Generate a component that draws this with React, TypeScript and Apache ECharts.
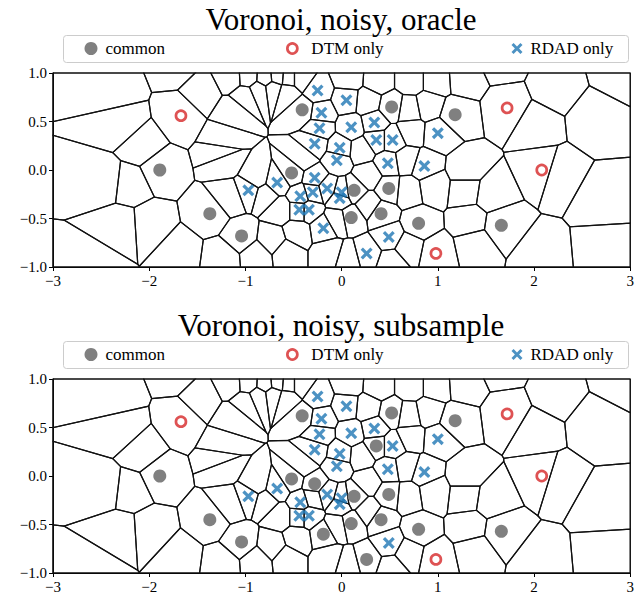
import React, { useEffect, useRef } from "react";
import * as echarts from "echarts";

// ---------- data (values in axis units) ----------
const xTicks = [-3, -2, -1, 0, 1, 2, 3];
const yTicks = [-1, -0.5, 0, 0.5, 1];
const titles = ["Voronoi, noisy, oracle", "Voronoi, noisy, subsample"];
const legendNames = ["common", "DTM only", "RDAD only"];

// sample points that carry no marker
const otherSamplePoints: [number, number][] = [
  [-2.36, 0.83], [-1.72, 1.09], [-1.44, 0.8], [-2.28, 0.47], [-2.08, 0.25], [-2.45, -0.12],
  [-2.2, -0.15], [-2.3, -0.58], [-2.55, -1.0], [-1.99, -0.56], [-1.68, -0.85],
  [-1.13, 0.6], [-1.15, 0.95], [-1.22, 0.31], [-1.24, 0.18], [-1.21, 0.1], [-1.16, -0.28], [-1.24, -0.91],
  [-1.0, 0.76], [-0.86, 0.82], [-0.71, 0.84], [-0.57, 0.8], [-0.4, 0.12], [-0.89, -0.08],
  [-0.97, 0.96], [-0.79, 0.95], [-0.67, 0.96], [-0.55, 0.95], [-0.43, 0.95],
  [0.07, 0.95], [0.38, 0.93], [0.72, 0.93], [0.98, 0.93], [1.27, 0.95], [0.7, 0.62], [0.9, 0.66],
  [0.27, 0.7], [0.72, 0.4], [0.95, -0.17],
  [0.28, -0.06], [0.69, -0.21], [0.67, 0.1], [0.21, 0.21], [0.28, -0.36], [-0.05, -0.52], [-0.46, -0.64],
  [-0.57, -0.85], [-0.13, -0.85], [0.07, -0.91], [0.52, -0.95], [0.69, -0.8], [-0.79, -0.26], [-0.64, -0.41],
  [-0.72, -0.72], [-0.88, -0.88],
  [1.29, 0.0], [1.29, -0.21], [1.55, -0.25], [1.33, -0.52], [1.39, -0.77],
  [2.02, 0.46], [2.22, 0.85], [2.89, 1.03], [2.63, 0.52], [1.65, 1.13], [2.24, -0.05], [2.7, -0.31],
  [2.73, -0.82], [2.06, -0.88],
];

// oracle panel
const commonOracle: [number, number][] = [
  [-1.89, 0.0], [-1.37, -0.45], [-1.04, -0.68], [-0.41, 0.62], [0.52, 0.65], [1.18, 0.57], [-0.52, -0.03],
  [0.13, -0.21], [0.49, -0.19], [0.1, -0.49], [0.41, -0.45], [0.8, -0.55], [1.66, -0.57],
];
const dtmOracle: [number, number][] = [[-1.67, 0.56], [1.72, 0.64], [2.08, 0.0], [0.98, -0.86]];
const rdadOracle: [number, number][] = [
  [-0.25, 0.82], [0.05, 0.72], [-0.21, 0.59], [-0.23, 0.43], [0.1, 0.44], [0.34, 0.49], [-0.28, 0.27],
  [-0.02, 0.23], [0.36, 0.31], [0.53, 0.31], [-0.05, 0.1], [0.48, 0.07], [0.86, 0.04], [1.0, 0.38],
  [-0.97, -0.21], [-0.67, -0.13], [-0.28, -0.08], [-0.43, -0.27], [-0.3, -0.23], [-0.15, -0.19],
  [0.0, -0.23], [-0.02, -0.29], [-0.44, -0.41], [-0.34, -0.41], [-0.19, -0.6], [0.49, -0.69], [0.26, -0.86],
];

// subsample panel
const commonSubsample: [number, number][] = [
  [-1.89, 0.0], [-1.37, -0.45], [-1.04, -0.68], [-0.41, 0.62], [0.52, 0.65], [1.18, 0.57], [-0.52, -0.03],
  [0.13, -0.21], [0.49, -0.19], [0.1, -0.49], [0.41, -0.45], [0.8, -0.55], [1.66, -0.57],
  [0.36, 0.31], [-0.28, -0.08], [-0.19, -0.6], [0.26, -0.86],
];
const dtmSubsample: [number, number][] = [[-1.67, 0.56], [1.72, 0.64], [2.08, 0.0], [0.98, -0.86]];
const rdadSubsample: [number, number][] = [
  [-0.25, 0.82], [0.05, 0.72], [-0.21, 0.59], [-0.23, 0.43], [0.1, 0.44], [0.34, 0.49], [-0.28, 0.27],
  [-0.02, 0.23], [0.53, 0.31], [-0.05, 0.1], [0.48, 0.07], [0.86, 0.04], [1.0, 0.38],
  [-0.97, -0.21], [-0.67, -0.13], [-0.43, -0.27], [-0.15, -0.19],
  [0.0, -0.23], [-0.02, -0.29], [-0.44, -0.41], [-0.34, -0.41], [0.49, -0.69],
];

// ---------- Voronoi (clipped to axis box) ----------
type Pt = [number, number];
function clipHalf(poly: Pt[], a: number, b: number, c: number): Pt[] {
  const out: Pt[] = [];
  for (let k = 0; k < poly.length; k++) {
    const P = poly[k];
    const Q = poly[(k + 1) % poly.length];
    const fp = a * P[0] + b * P[1] - c;
    const fq = a * Q[0] + b * Q[1] - c;
    if (fp <= 0) out.push(P);
    if ((fp < 0 && fq > 0) || (fp > 0 && fq < 0)) {
      const t = fp / (fp - fq);
      out.push([P[0] + t * (Q[0] - P[0]), P[1] + t * (Q[1] - P[1])]);
    }
  }
  return out;
}
function voronoiCells(sites: Pt[], x0: number, x1: number, y0: number, y1: number): Pt[][] {
  return sites.map((s, i) => {
    let poly: Pt[] = [[x0, y0], [x1, y0], [x1, y1], [x0, y1]];
    sites.forEach((q, j) => {
      if (j === i || poly.length === 0) return;
      const a = q[0] - s[0];
      const b = q[1] - s[1];
      const c = (a * (s[0] + q[0])) / 2 + (b * (s[1] + q[1])) / 2;
      poly = clipHalf(poly, a, b, c);
    });
    return poly;
  });
}

const FONT = "Liberation Serif";
const GRID_LEFT = 53;
const GRID_W = 582;
const GRID_H = 194;
const GRID_TOPS = [73, 379];
const RED = "#d62728";
const BLUE = "#1f77b4";
const GRAY = "#808080";
const XPATH =
  "path://M1.9,0 L5,3.1 L8.1,0 L10,1.9 L6.9,5 L10,8.1 L8.1,10 L5,6.9 L1.9,10 L0,8.1 L3.1,5 L0,1.9 Z";

const fmtMinus = (s: string) => s.replace("-", "\u2212");

export default function App() {
  const ref = useRef<HTMLDivElement>(null);
  useEffect(() => {
    if (!ref.current) return;
    const chart = echarts.init(ref.current, undefined, { renderer: "svg" });
    const sites: Pt[] = [...otherSamplePoints, ...commonOracle, ...dtmOracle, ...rdadOracle];
    const cells = voronoiCells(sites, -3, 3, -1, 1);

    const panels = [
      { common: commonOracle, dtm: dtmOracle, rdad: rdadOracle },
      { common: commonSubsample, dtm: dtmSubsample, rdad: rdadSubsample },
    ];

    const series: any[] = [];
    panels.forEach((p, k) => {
      series.push({
        type: "custom",
        xAxisIndex: k,
        yAxisIndex: k,
        silent: true,
        z: 1,
        data: sites.map((s) => [s[0], s[1]]),
        renderItem: (params: any, api: any) => {
          const poly = cells[params.dataIndex];
          if (!poly || poly.length < 3) return null;
          return {
            type: "polygon",
            shape: { points: poly.map((pt) => api.coord(pt)) },
            style: { fill: "none", stroke: "#111", lineWidth: 1.2 },
          };
        },
      });
      series.push({
        name: legendNames[0], type: "scatter", xAxisIndex: k, yAxisIndex: k, z: 3,
        symbol: "circle", symbolSize: 13, itemStyle: { color: GRAY, opacity: 1 }, data: p.common,
      });
      series.push({
        name: legendNames[1], type: "scatter", xAxisIndex: k, yAxisIndex: k, z: 3,
        symbol: "circle", symbolSize: 10,
        itemStyle: { color: "#ffffff", borderColor: RED, borderWidth: 2.7 }, data: p.dtm,
      });
      series.push({
        name: legendNames[2], type: "scatter", xAxisIndex: k, yAxisIndex: k, z: 3,
        symbol: XPATH, symbolSize: 12, itemStyle: { color: BLUE }, data: p.rdad,
      });
    });

    const legendPos = [
      { name: legendNames[0], center: 91, icon: "circle", style: { color: GRAY }, w: 13, gap: 3 },
      { name: legendNames[1], center: 291, icon: "circle", style: { color: "#fff", borderColor: RED, borderWidth: 2.7 }, w: 10, gap: 9 },
      { name: legendNames[2], center: 517, icon: XPATH, style: { color: BLUE }, w: 11, gap: 3 },
    ];
    const legends: any[] = [];
    const graphics: any[] = [];
    GRID_TOPS.forEach((top, k) => {
      graphics.push({
        type: "text",
        x: 341,
        y: top - 54,
        z: 10,
        style: {
          text: titles[k], fontSize: 31, fontFamily: FONT, fill: "#000",
          textAlign: "center", textVerticalAlign: "middle",
        },
      });
      graphics.push({
        type: "rect",
        shape: { x: 63.5, y: top - 37.5, width: 565, height: 27, r: 3 },
        z: 0,
        style: { fill: "rgba(255,255,255,0.8)", stroke: "#cccccc", lineWidth: 1 },
      });
      legendPos.forEach((lp) => {
        legends.push({
          data: [{ name: lp.name, icon: lp.icon, itemStyle: lp.style }],
          left: lp.center - lp.w / 2,
          top: top - 34.5,
          padding: 0,
          itemWidth: lp.w,
          itemHeight: lp.w,
          itemGap: 0,
          selectedMode: false,
          textStyle: {
            fontFamily: FONT, fontSize: 17, color: "#000", lineHeight: 20,
            padding: [0, 0, 0, lp.gap],
          },
        });
      });
    });

    const option: any = {
      animation: false,
      backgroundColor: "#fff",
      grid: GRID_TOPS.map((top) => ({
        left: GRID_LEFT, top, width: GRID_W, height: GRID_H,
        show: true, borderColor: "#000", borderWidth: 1, backgroundColor: "transparent",
      })),
      xAxis: GRID_TOPS.map((_, k) => ({
        type: "value", gridIndex: k, min: -3, max: 3, interval: 1,
        axisLine: { show: true, onZero: false, lineStyle: { color: "#000", width: 1 } },
        axisTick: { show: true, length: 4, lineStyle: { color: "#000" } },
        splitLine: { show: false },
        axisLabel: {
          fontFamily: FONT, fontSize: 15, color: "#000", margin: 6,
          formatter: (v: number) => (xTicks.includes(v) ? fmtMinus(String(v)) : ""),
        },
      })),
      yAxis: GRID_TOPS.map((_, k) => ({
        type: "value", gridIndex: k, min: -1, max: 1, interval: 0.5,
        axisLine: { show: true, onZero: false, lineStyle: { color: "#000", width: 1 } },
        axisTick: { show: true, length: 4, lineStyle: { color: "#000" } },
        splitLine: { show: false },
        axisLabel: {
          fontFamily: FONT, fontSize: 15, color: "#000", margin: 6,
          formatter: (v: number) => (yTicks.includes(v) ? fmtMinus(v.toFixed(1)) : ""),
        },
      })),
      legend: legends,
      graphic: graphics,
      series,
    };
    chart.setOption(option);
    return () => chart.dispose();
  }, []);
  return (
    <div
      ref={ref}
      style={{ position: "fixed", left: 0, top: 0, width: 637, height: 601, background: "#fff" }}
    />
  );
}
